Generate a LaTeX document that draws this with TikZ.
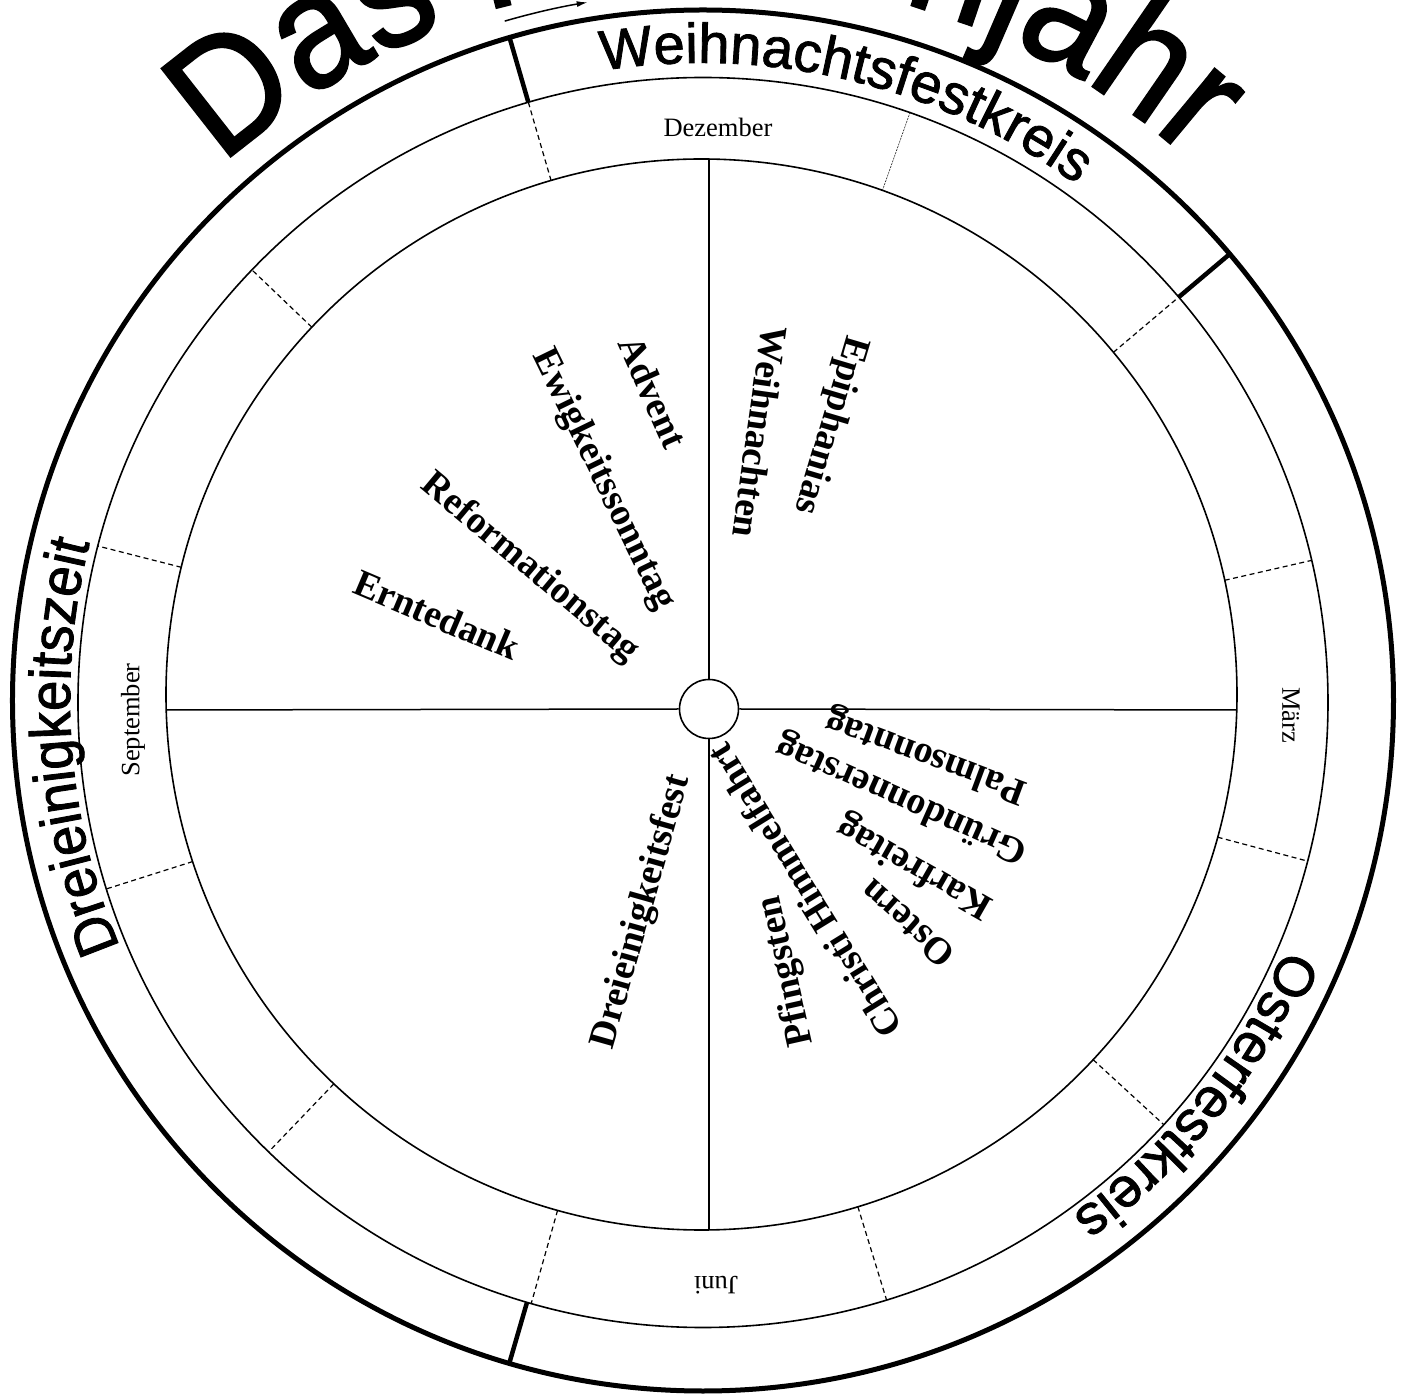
\documentclass[tikz,border=0pt]{standalone}
\usepackage{fontspec}
\setmainfont{Liberation Serif}
\setsansfont{Liberation Sans}
\newfontfamily\seasonfont{Liberation Sans}[FakeBold=1.5]
\newfontfamily\seasonnarrow{Liberation Sans}[FakeBold=1.5,FakeStretch=0.94]
\newfontfamily\titlefont{Liberation Sans}[FakeBold=1.5,FakeStretch=0.92]
\usetikzlibrary{decorations.text,arrows.meta,calc}
\begin{document}
\begin{tikzpicture}[x=1pt,y=1pt,
  ring/.style={line width=1.6pt},
  quad/.style={line width=1.5pt},
  divider/.style={line width=1.2pt, dash pattern=on 5pt off 3.5pt},
  faint/.style={line width=0.5pt, dash pattern=on 2pt off 1pt},
  seasonline/.style={line width=4.5pt},
  month/.style={font=\fontsize{26.5}{30}\selectfont, inner sep=0pt},
  feast/.style={font=\bfseries\fontsize{38}{42}\selectfont, inner sep=0pt},
]
\useasboundingbox (-702,-699) rectangle (709,700);
\clip (-702,-699) rectangle (709,700);
\fill[white] (-702,-699) rectangle (709,700);

% rings
\draw[line width=5pt] (1,-0.5) circle[radius=690.5];
\draw[ring] (1,-2.5) circle[radius=625];
\draw[ring] (-0.5,5.5) circle[radius=535.5];

% quadrant lines and hub
\node[circle, draw, ring, fill=white, minimum size=59pt, inner sep=0pt] (hub) at (7,-9) {};
\coordinate (qN) at (7,540.9);
\coordinate (qS) at (7,-529.9);
\coordinate (qW) at (-535.8,-10);
\coordinate (qE) at (534.8,-10);
\draw[quad] (hub.north) -- (qN);
\draw[quad] (hub.south) -- (qS);
\draw[quad] (hub.west) -- (qW);
\draw[quad] (hub.east) -- (qE);

% month dividers
\foreach \a in {12.9,-14.9,-42.6,-72.9,-105.8,-133.8,-162.4,165.7,136.3,106.2,40.2}{
  \draw[divider] ({\a}:{535.5-0.5*cos(\a)+5.5*sin(\a)}) -- ({\a}:{625+cos(\a)-2.5*sin(\a)});
}
\draw[faint] ({70.5}:{535.5-0.5*cos(70.5)+5.5*sin(70.5)}) -- ({70.5}:{625+cos(70.5)-2.5*sin(70.5)});

% season boundaries
\foreach \a in {106.2,40.2,-106.2}{
  \draw[seasonline] ({\a}:{625+cos(\a)-2.5*sin(\a)}) -- ({\a}:{690.5+cos(\a)-0.5*sin(\a)});
}

% direction arrow
\coordinate (arrA) at (106.2:707);
\draw[line width=1.5pt, -{Latex[length=11pt,width=6pt]}] (arrA) arc[start angle=106.2, end angle=99.3, radius=707];

% title
\coordinate (tc) at (7,0);
\path[decorate, decoration={text along path, text align=center,
  text={|\titlefont\fontsize{162}{162}\selectfont|Das Kirchenjahr}}]
  ($(tc)+(180.3:723)$) arc[start angle=180.3, end angle=0.3, radius=723];

% season labels
\path[decorate, decoration={text along path, text align=center,
  text={|\seasonfont\fontsize{56}{60}\selectfont|Weihnachtsfestkreis}}]
  (166.5:637) arc[start angle=166.5, end angle=-13.5, radius=637];
\path[decorate, decoration={text along path, text align=center,
  text={|\seasonfont\fontsize{56}{60}\selectfont|Osterfestkreis}}]
  (51.3:634) arc[start angle=51.3, end angle=-128.7, radius=634];
\path[decorate, decoration={text along path, text align=center,
  text={|\seasonnarrow\fontsize{58}{60}\selectfont|Dreieinigkeitszeit}}]
  (274.3:632) arc[start angle=274.3, end angle=94.3, radius=632];

% months
\node[month] (dez) at (16,573) {Dezember};
\node[month, rotate=-90] (mar) at (589,-15) {März};
\node[month, rotate=180] (jun) at (14,-585) {Juni};
\node[month, rotate=90] (sep) at (-569,-20) {September};

% feasts
\node[feast, rotate=-66] (advent) at (-49,308) {Advent};
\node[feast, rotate=-64] (ewig) at (-99,220) {Ewigkeitssonntag};
\node[feast, rotate=-40] (refo) at (-172,132) {Reformationstag};
\node[feast, rotate=-23] (ernte) at (-265,85) {Erntedank};
\node[feast, rotate=-98] (weih) at (58,268) {Weihnachten};
\node[feast, rotate=-106.5] (epi) at (128,275) {Epiphanias};
\node[feast, rotate=159.6] (palm) at (224,-55) {Palmsonntag};
\node[feast, rotate=156] (gruen) at (200,-98) {Gründonnerstag};
\node[feast, rotate=150.3] (kar) at (213,-166) {Karfreitag};
\node[feast, rotate=138.7] (ostern) at (205,-224) {Ostern};
\node[feast, rotate=121.7] (himmel) at (102,-191) {Christi Himmelfahrt};
\node[feast, rotate=102.6] (pfing) at (85,-271) {Pfingsten};
\node[feast, rotate=74.2] (dreifest) at (-60,-212) {Dreieinigkeitsfest};
\end{tikzpicture}
\end{document}
